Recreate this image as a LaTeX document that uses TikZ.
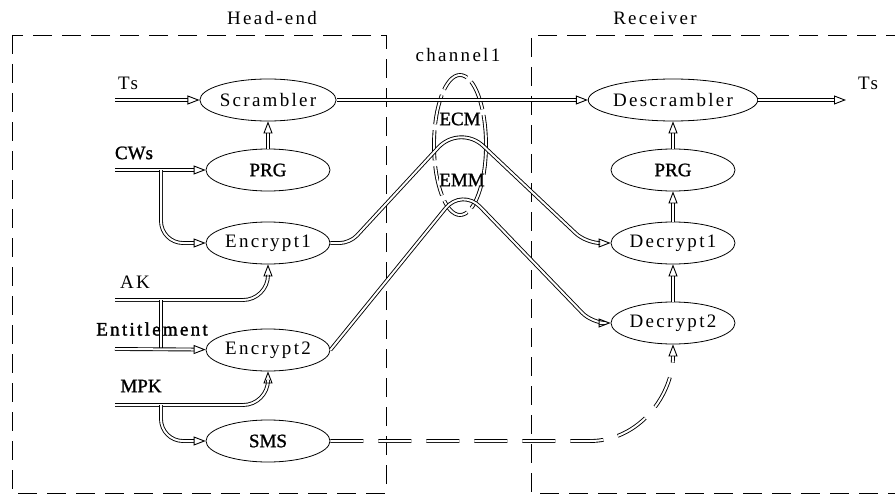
\documentclass[tikz,border=0pt]{standalone}
\usepackage{fontspec}
\setmainfont{Liberation Serif}[LetterSpace=12]
\newfontfamily\tightfont{Liberation Serif}[FakeBold=1.2]
\newfontfamily\heavyfont{Liberation Serif}[FakeBold=1.6, LetterSpace=12]
\usetikzlibrary{arrows.meta,shapes.geometric}

\begin{document}
\begin{tikzpicture}[
  x=1pt, y=-1pt,
  font=\fontsize{19}{21}\selectfont,
  blk/.style={draw, ellipse, line width=0.8pt, minimum width=124pt, minimum height=42pt, inner sep=0pt},
  dbl/.style={draw, double, double distance=2pt, line width=0.9pt},
  arr/.style={dbl, -{Triangle[open, length=12pt, width=9pt]}},
  zone/.style={draw, line width=0.8pt, dash pattern=on 19pt off 10pt},
  lbl/.style={inner sep=0pt},
  tight/.style={font=\fontsize{19}{21}\tightfont}]
\useasboundingbox (0,0) rectangle (895,495);
% dashed areas
\draw[zone] (12,35) rectangle (386,493);
\draw[zone] (905,35) -- (531,35) -- (531,493) -- (905,493);
\node[lbl] (head) at (272,18) {Head-end};
\node[lbl] (recv) at (655,18) {Receiver};
% head-end blocks
\node[blk] (scr) at (268,100) {Scrambler};
\node[blk, tight] (prgL) at (268,170) {PRG};
\node[blk] (encA) at (268,243) {Encrypt1};
\node[blk] (encB) at (268,350) {Encrypt2};
\node[blk, tight] (sms) at (268,441) {SMS};
% receiver blocks
\node[blk, minimum width=160pt] (dscr) at (673,100) {Descrambler};
\node[blk, tight] (prgR) at (673,170) {PRG};
\node[blk] (decA) at (673,243) {Decrypt1};
\node[blk] (decB) at (673,323) {Decrypt2};
% inputs
\coordinate (tsIn) at (115,100);
\coordinate (cwsIn) at (115,170);
\coordinate (cwsFork) at (161,170);
\coordinate (akIn) at (115,300);
\coordinate (akFork) at (161,300);
\coordinate (entIn) at (115,349);
\coordinate (entFork) at (161,349);
\coordinate (mpkIn) at (115,405);
\coordinate (mpkFork) at (161,405);
\coordinate (tsOut) at (846,100);
\node[lbl] (tsL) at (128,83) {Ts};
\node[lbl, tight] (cwsL) at (134,153) {CWs};
\node[lbl] (akL) at (135,282) {AK};
\node[lbl, tight] (mpkL) at (141,386) {MPK};
\node[lbl] (tsR) at (868,83) {Ts};
% channel
\draw[dbl, dash pattern=on 30pt off 6pt] (460,145) ellipse (26pt and 70pt);
\node[lbl] (chan) at (458,55) {channel1};
\node[lbl, tight, fill=white] (ecm) at (460,119) {ECM};
\node[lbl, tight, fill=white] (emm) at (462,180) {EMM};
% connectors
\draw[arr] (tsIn) -- (scr);
\draw[arr] (cwsIn) -- (prgL);
\draw[arr] (prgL) -- (scr);
\draw[arr, rounded corners=22pt] (cwsFork) |- (encA.west);
\draw[arr, rounded corners=25pt] (akIn) -| (encA.south);
\draw[dbl] (akFork) -- (entFork);
\draw[arr] (entIn) -- (encB);
\draw[arr, rounded corners=25pt] (mpkIn) -| (encB.south);
\draw[arr, rounded corners=22pt] (mpkFork) |- (sms.west);
\node[lbl, font=\fontsize{19}{21}\heavyfont] (entL) at (152,329) {Entitlement};
\draw[arr] (scr) -- (dscr);
\draw[arr] (dscr) -- (tsOut);
\draw[arr] (prgR) -- (dscr);
\draw[arr] (decA) -- (prgR);
\draw[arr] (decB) -- (decA);
\draw[arr] (encA.east) [rounded corners=10pt] -- (350,243) [rounded corners=32pt] -- (460,124) [rounded corners=14pt] -- (586,243) -- (decA.west);
\draw[arr] (encB.east) [rounded corners=26pt] -- (462,188) [rounded corners=14pt] -- (592,323) -- (decB.west);
\draw[arr, dash pattern=on 33pt off 15pt] (sms.east) -- (590,441) to[out=0, in=-90] (decB.south);
\end{tikzpicture}
\end{document}
